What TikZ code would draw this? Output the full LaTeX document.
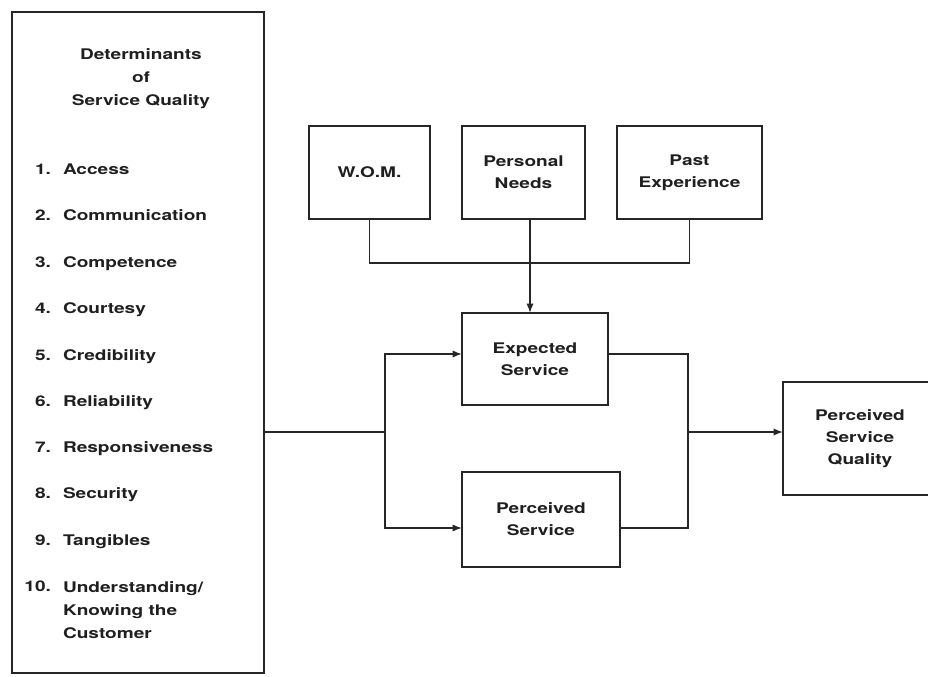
\documentclass[tikz,border=0pt]{standalone}
\usepackage{fontspec}
\setmainfont{TeX Gyre Heros}[FakeStretch=1.3]
\usetikzlibrary{arrows.meta}

\tikzset{
  ink/.style={black!88},
  wire/.style={draw=black!85, line width=1.3pt},
  arr/.style={wire, -{Latex[length=7pt,width=5.5pt]}},
  box/.style={draw=black!85, line width=1.3pt, inner sep=0pt, outer sep=0pt,
              align=center, text=black!88,
              font={\bfseries\fontsize{11}{16.5}\selectfont}},
  lbl/.style={inner sep=0pt, outer sep=0pt, text=black!88,
              font={\bfseries\fontsize{11}{17.25}\selectfont}},
}

\begin{document}
\begin{tikzpicture}[x=0.75pt, y=-0.75pt]
  \useasboundingbox (0,0) rectangle (928,677);
  \clip (0,0) rectangle (928,677);

  % list of determinants
  \node[box, minimum width=189pt, minimum height=495.75pt] (det) at (138,342.5) {};
  \node[lbl, align=center, anchor=north] (title) at (141,49)
    {Determinants\\of\\Service Quality};

  \foreach \n/\t/\y [count=\i] in {
      1./Access/175, 2./Communication/221, 3./Competence/267.5,
      4./Courtesy/314, 5./Credibility/360, 6./Reliability/406,
      7./Responsiveness/452, 8./Security/498, 9./Tangibles/545} {
    \node[lbl, anchor=base east] (num\i) at (51,\y) {\n};
    \node[lbl, anchor=base west] (item\i) at (63,\y) {\t};
  }
  \node[lbl, anchor=base east] (num10) at (51,591) {10.};
  \node[lbl, anchor=north west, align=left] (item10) at (63,581.5)
    {Understanding/\\Knowing the\\Customer};

  % sources of expectation
  \node[box, minimum width=90.75pt, minimum height=69.75pt] (wom) at (369.5,172.5) {W.O.M.};
  \node[box, minimum width=92.25pt, minimum height=69.75pt] (needs) at (523.5,172.5) {Personal\\Needs};
  \node[box, minimum width=108.75pt, minimum height=69.75pt] (past) at (689.5,172.5) {Past\\Experience};

  % comparison
  \node[box, minimum width=109.5pt, minimum height=69pt] (expected) at (535,359) {Expected\\Service};
  \node[box, minimum width=118.5pt, minimum height=71.25pt] (perceived) at (541,519.5) {Perceived\\Service};
  \node[box, minimum width=115.5pt, minimum height=84.75pt] (psq) at (860,438.5) {Perceived\\Service\\Quality};

  % routing points
  \coordinate (bus) at (0,263);
  \coordinate (topLane) at (0,354);
  \coordinate (midLane) at (0,432);
  \coordinate (botLane) at (0,528);
  \coordinate (split) at (385,432);
  \coordinate (merge) at (688,432);

  % expectation sources feed expected service
  \draw[wire] (wom.south) -- (wom.south |- bus) -| (past.south);
  \draw[arr] ([xshift=4.875pt]needs.south) -- ([xshift=4.875pt]needs.south |- expected.north);

  % determinants feed both services
  \draw[wire] (det.east |- midLane) -- (split);
  \draw[arr] (split) |- (expected.west |- topLane);
  \draw[arr] (split) |- (perceived.west |- botLane);

  % both services combine into perceived quality
  \draw[wire] (expected.east |- topLane) -| (merge);
  \draw[wire] (perceived.east |- botLane) -| (merge);
  \draw[arr] (merge) -- (psq.west |- merge);
\end{tikzpicture}
\end{document}
